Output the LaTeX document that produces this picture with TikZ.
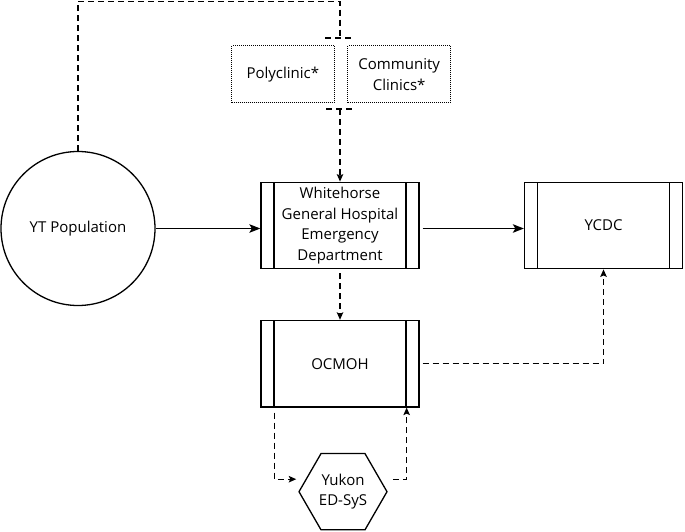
\documentclass[tikz,border=0pt]{standalone}
\usepackage{fontspec}
\setmainfont{Open Sans}
\usetikzlibrary{shapes.geometric,arrows.meta}
\begin{document}
\begin{tikzpicture}[x=1pt,y=-1pt,
  every node/.style={font=\fontsize{15}{20.7}\selectfont, align=center},
  lw/.style={line width=1.3pt},
  proc/.style={lw, draw, rectangle, minimum width=158pt, minimum height=86.5pt, inner sep=0pt,
    path picture={\draw[lw] ([xshift=13pt]path picture bounding box.north west) -- ([xshift=13pt]path picture bounding box.south west);
                  \draw[lw] ([xshift=-13pt]path picture bounding box.north east) -- ([xshift=-13pt]path picture bounding box.south east);}},
  dotbox/.style={draw, line width=1pt, dash pattern=on 1pt off 1pt, rectangle, minimum width=102.5pt, minimum height=57pt, inner sep=0pt},
  dsh/.style={lw, dash pattern=on 6pt off 4pt},
  solidarrow/.style={lw, -{Stealth[length=11pt,width=8.5pt,inset=2.5pt]}},
  dasharrow/.style={dsh, -{Stealth[length=7.5pt,width=6.5pt,inset=1.5pt]}},
]
\useasboundingbox (0,0) rectangle (685,532);

\node[lw, draw, circle, minimum size=154pt, inner sep=0pt] (pop) at (78,228.5) {YT Population};
\node[proc] (wgh) at (340,225.5) {Whitehorse\\General Hospital\\Emergency\\Department};
\node[proc] (ycdc) at (603.5,225.5) {YCDC};
\node[proc] (ocmoh) at (340,363.7) {OCMOH};
\node[lw, draw, regular polygon, regular polygon sides=6, minimum size=88pt, inner sep=0pt] (hex) at (343,491.7) {Yukon\\ED-SyS};

\node[dotbox] (poly) at (282.8,74.5) {Polyclinic*};
\node[dotbox] (comm) at (399.2,74.5) {Community\\Clinics*};

\coordinate (gtop) at (340,38);
\coordinate (gbot) at (340,109);
\coordinate (corner) at (340,1.2);

% top dashed route
\draw[dsh] (pop.north) |- (corner) -- (gtop);
\draw[dsh] ([xshift=-15pt]gtop) -- ([xshift=13pt]gtop);
\draw[dsh] ([xshift=-14pt]gbot) -- ([xshift=15pt]gbot);
\draw[dasharrow] (gbot) -- (wgh.north);

% solid arrows
\draw[solidarrow] (pop.east) -- (pop.east -| wgh.west);
\draw[solidarrow, shorten <=3pt] (wgh.east |- pop.east) -- (ycdc.west |- pop.east);

% dashed arrows
\draw[dasharrow, shorten <=4pt] (wgh.south) -- (ocmoh.north);
\draw[dasharrow, shorten <=3pt] (ocmoh.east) -| (ycdc.south);
\draw[dasharrow, shorten <=5pt] ([xshift=14pt]ocmoh.south west) |- ([xshift=-2pt,yshift=12.5pt]hex.west);
\draw[dasharrow] ([xshift=5pt,yshift=12.5pt]hex.east) -| ([xshift=-13pt]ocmoh.south east);
\end{tikzpicture}
\end{document}
